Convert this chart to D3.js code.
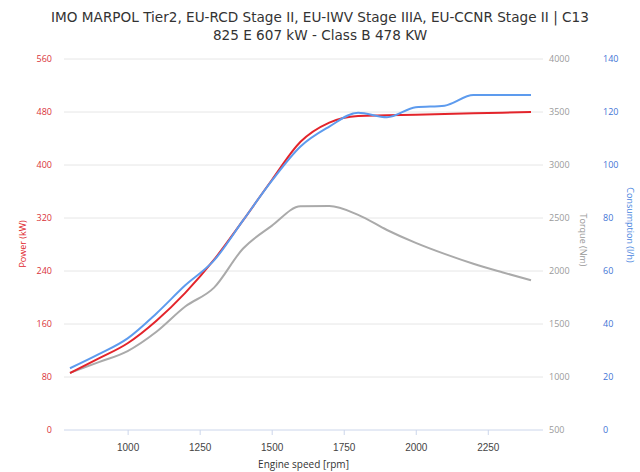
<!DOCTYPE html>
<html>
<head>
<meta charset="utf-8">
<script src="https://cdn.jsdelivr.net/npm/d3@7"></script>
<style>
  body { margin: 0; background: #fff; }
  svg { display: block; font-family: "Open Sans", "DejaVu Sans", sans-serif; }
</style>
</head>
<body>
<div id="chart"></div>
<script>
// engine speed in rpm
var rpm = [800, 900, 1000, 1100, 1200, 1300, 1400, 1500, 1600, 1700, 1800, 1900, 2000, 2100, 2200, 2300, 2400];
// power in kW
var power = [86, 108, 131, 165, 207, 257, 316, 377, 435, 464, 474, 475, 476, 477, 478, 479, 480];
// torque in Nm
var torque = [1040, 1140, 1245, 1427, 1665, 1843, 2210, 2426, 2610, 2613, 2530, 2387, 2265, 2161, 2068, 1988, 1913];
// consumption in l/h
var consumption = [23.3, 28.6, 34.6, 44, 54.6, 64, 79, 94, 107, 114.5, 119.7, 118, 121.8, 122.4, 126.4, 126.4, 126.4];

var xTicks = [1000, 1250, 1500, 1750, 2000, 2250];
var powerTicks = [0, 80, 160, 240, 320, 400, 480, 560];
var torqueTicks = [500, 1000, 1500, 2000, 2500, 3000, 3500, 4000];
var consTicks = [0, 20, 40, 60, 80, 100, 120, 140];

var titleLines = ["IMO MARPOL Tier2, EU-RCD Stage II, EU-IWV Stage IIIA, EU-CCNR Stage II | C13",
                  "825 E 607 kW - Class B 478 KW"];

const width = 640, height = 472;
const plot = { left: 64, right: 543, top: 59, bottom: 430 };

var svg = d3.select('#chart').append('svg')
  .attr('width', width)
  .attr('height', height);

// scales
var x = d3.scaleLinear().domain([800, 2400]).range([70, 531]);
var yPower = d3.scaleLinear().domain([0, 560]).range([plot.bottom, plot.top]);
var yTorque = d3.scaleLinear().domain([500, 4000]).range([plot.bottom, plot.top]);
var yCons = d3.scaleLinear().domain([0, 140]).range([plot.bottom, plot.top]);

// title
svg.append('text')
  .attr('x', width / 2)
  .attr('text-anchor', 'middle')
  .style('font-size', '13.6px')
  .style('font-family', '"DejaVu Sans", sans-serif')
  .attr('fill', '#333')
  .selectAll('tspan')
  .data(titleLines)
  .enter()
  .append('tspan')
    .attr('x', width / 2)
    .attr('y', (d, i) => 22 + i * 18)
    .text(d => d);

// gridlines
svg.append('g')
  .selectAll('line')
  .data(powerTicks.slice(1))
  .enter()
  .append('line')
    .attr('x1', plot.left)
    .attr('x2', plot.right)
    .attr('y1', d => yPower(d))
    .attr('y2', d => yPower(d))
    .attr('stroke', '#e6e6e6')
    .attr('stroke-width', 1);

// x axis
var xAxis = svg.append('g')
  .attr('transform', `translate(0,${plot.bottom})`)
  .call(d3.axisBottom(x).tickValues(xTicks).tickSize(5).tickPadding(9).tickFormat(d3.format('d')));
xAxis.select('.domain').remove();
xAxis.append('line')
  .attr('x1', plot.left).attr('x2', plot.right)
  .attr('stroke', '#ccd6eb');
xAxis.selectAll('.tick line').attr('stroke', '#ccd6eb');
xAxis.selectAll('.tick text').attr('fill', '#444').style('font-size', '10px').style('font-family', null);

svg.append('text')
  .attr('x', (plot.left + plot.right) / 2)
  .attr('y', 468)
  .attr('text-anchor', 'middle')
  .attr('fill', '#333')
  .style('font-size', '10px')
  .text('Engine speed [rpm]');

// y axes labels
function axisLabels(ticks, scale, xPos, anchor, colour) {
  svg.append('g')
    .selectAll('text')
    .data(ticks)
    .enter()
    .append('text')
      .attr('x', xPos)
      .attr('y', d => scale(d))
      .attr('dy', '0.32em')
      .attr('text-anchor', anchor)
      .attr('fill', colour)
      .style('font-size', '9px')
      .text(d => d);
}
axisLabels(powerTicks, yPower, 52, 'end', '#d9333a');
axisLabels(torqueTicks, yTorque, 549, 'start', '#9a9a9a');
axisLabels(consTicks, yCons, 603, 'start', '#3f74d6');

function axisTitle(label, xPos, yPos, angle, colour) {
  svg.append('text')
    .attr('transform', `translate(${xPos},${yPos}) rotate(${angle})`)
    .attr('text-anchor', 'middle')
    .attr('fill', colour)
    .style('font-size', '9px')
    .text(label);
}
axisTitle('Power (kW)', 26, 244, -90, '#e0282e');
axisTitle('Torque (Nm)', 580, 240, 90, '#999');
axisTitle('Consumption (l/h)', 627, 225, 90, '#4a86e0');

// lines
function drawLine(values, scale, colour) {
  var line = d3.line()
    .x((d, i) => x(rpm[i]))
    .y(d => scale(d))
    .curve(d3.curveMonotoneX);
  svg.append('path')
    .datum(values)
    .attr('fill', 'none')
    .attr('stroke', colour)
    .attr('stroke-width', 2)
    .attr('stroke-linejoin', 'round')
    .attr('d', line);
}
drawLine(torque, yTorque, '#aaaaaa');
drawLine(power, yPower, '#e3242b');
drawLine(consumption, yCons, '#5d9bee');
</script>
</body>
</html>
